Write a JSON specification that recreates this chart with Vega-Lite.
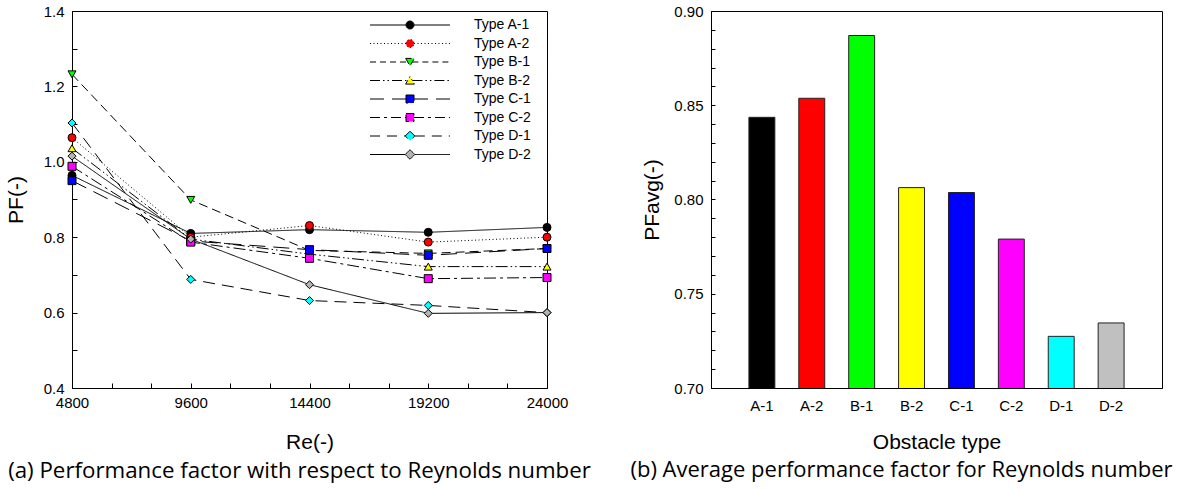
{
  "$schema": "https://vega.github.io/schema/vega-lite/v6.json",
  "background": "white",
  "padding": {"left": 4, "top": 3, "right": 10, "bottom": 4},
  "bounds": "flush",
  "spacing": 164,
  "datasets": {
    "pf": [
      {"type": "Type A-1", "re": 4800, "pf": 0.964},
      {"type": "Type A-1", "re": 9600, "pf": 0.810},
      {"type": "Type A-1", "re": 14400, "pf": 0.820},
      {"type": "Type A-1", "re": 19200, "pf": 0.813},
      {"type": "Type A-1", "re": 24000, "pf": 0.826},
      {"type": "Type A-2", "re": 4800, "pf": 1.064},
      {"type": "Type A-2", "re": 9600, "pf": 0.800},
      {"type": "Type A-2", "re": 14400, "pf": 0.831},
      {"type": "Type A-2", "re": 19200, "pf": 0.787},
      {"type": "Type A-2", "re": 24000, "pf": 0.800},
      {"type": "Type B-1", "re": 4800, "pf": 1.232},
      {"type": "Type B-1", "re": 9600, "pf": 0.899},
      {"type": "Type B-1", "re": 14400, "pf": 0.765},
      {"type": "Type B-1", "re": 19200, "pf": 0.757},
      {"type": "Type B-1", "re": 24000, "pf": 0.770},
      {"type": "Type B-2", "re": 4800, "pf": 1.036},
      {"type": "Type B-2", "re": 9600, "pf": 0.795},
      {"type": "Type B-2", "re": 14400, "pf": 0.755},
      {"type": "Type B-2", "re": 19200, "pf": 0.722},
      {"type": "Type B-2", "re": 24000, "pf": 0.722},
      {"type": "Type C-1", "re": 4800, "pf": 0.950},
      {"type": "Type C-1", "re": 9600, "pf": 0.790},
      {"type": "Type C-1", "re": 14400, "pf": 0.767},
      {"type": "Type C-1", "re": 19200, "pf": 0.752},
      {"type": "Type C-1", "re": 24000, "pf": 0.770},
      {"type": "Type C-2", "re": 4800, "pf": 0.988},
      {"type": "Type C-2", "re": 9600, "pf": 0.787},
      {"type": "Type C-2", "re": 14400, "pf": 0.744},
      {"type": "Type C-2", "re": 19200, "pf": 0.690},
      {"type": "Type C-2", "re": 24000, "pf": 0.693},
      {"type": "Type D-1", "re": 4800, "pf": 1.103},
      {"type": "Type D-1", "re": 9600, "pf": 0.688},
      {"type": "Type D-1", "re": 14400, "pf": 0.632},
      {"type": "Type D-1", "re": 19200, "pf": 0.619},
      {"type": "Type D-1", "re": 24000, "pf": 0.600},
      {"type": "Type D-2", "re": 4800, "pf": 1.015},
      {"type": "Type D-2", "re": 9600, "pf": 0.795},
      {"type": "Type D-2", "re": 14400, "pf": 0.674},
      {"type": "Type D-2", "re": 19200, "pf": 0.598},
      {"type": "Type D-2", "re": 24000, "pf": 0.600}
    ],
    "bars": [
      {"obstacle": "A-1", "pfavg": 0.8436},
      {"obstacle": "A-2", "pfavg": 0.8537},
      {"obstacle": "B-1", "pfavg": 0.8870},
      {"obstacle": "B-2", "pfavg": 0.8063},
      {"obstacle": "C-1", "pfavg": 0.8037},
      {"obstacle": "C-2", "pfavg": 0.7790},
      {"obstacle": "D-1", "pfavg": 0.7274},
      {"obstacle": "D-2", "pfavg": 0.7345}
    ]
  },
  "hconcat": [
    {
      "width": 475,
      "height": 377,
      "data": {"name": "pf"},
      "title": {
        "text": "(a) Performance factor with respect to Reynolds number",
        "orient": "bottom",
        "anchor": "middle",
        "font": "Open Sans",
        "fontSize": 22.3,
        "fontWeight": "normal",
        "color": "black",
        "offset": 8,
        "dx": -10
      },
      "encoding": {
        "x": {
          "field": "re",
          "type": "quantitative",
          "scale": {"domain": [4800, 24000], "nice": false, "zero": false},
          "axis": {
            "title": "Re(-)",
            "values": [4800, 6400, 8000, 9600, 11200, 12800, 14400, 16000, 17600, 19200, 20800, 22400, 24000],
            "format": "d",
            "labelExpr": "datum.value % 4800 == 0 ? datum.label : ''",
            "labelOverlap": false,
            "labelFlush": false,
            "tickSize": -5,
            "labelPadding": 12,
            "titlePadding": 21,
            "labelFontSize": 15,
            "titleFontSize": 21
          }
        },
        "y": {
          "field": "pf",
          "type": "quantitative",
          "scale": {"domain": [0.4, 1.4], "nice": false, "zero": false},
          "axis": {
            "title": "PF(-)",
            "values": [0.4, 0.5, 0.6, 0.7, 0.8, 0.9, 1.0, 1.1, 1.2, 1.3, 1.4],
            "labelExpr": "(round(datum.value * 10) % 2 == 0) ? format(datum.value, '.1f') : ''",
            "labelOverlap": false,
            "labelFlush": false,
            "tickSize": -5,
            "labelPadding": 13,
            "titlePadding": 17,
            "labelFontSize": 15,
            "titleFontSize": 21
          }
        }
      },
      "layer": [
        {
          "mark": {"type": "line", "color": "black", "strokeWidth": 1},
          "encoding": {
            "detail": {"field": "type", "type": "nominal"},
            "strokeDash": {
              "field": "type",
              "type": "nominal",
              "scale": {
                "domain": ["Type A-1", "Type A-2", "Type B-1", "Type B-2", "Type C-1", "Type C-2", "Type D-1", "Type D-2"],
                "range": [[1, 0], [1, 2.5], [9, 5], [12, 3, 1.5, 3, 1.5, 3], [16, 8], [12, 4, 3, 4], [12, 7], [1, 0]]
              },
              "legend": null
            }
          }
        },
        {
          "mark": {"type": "point", "filled": true, "stroke": "black", "strokeWidth": 1, "size": 64, "opacity": 1},
          "encoding": {
            "shape": {
              "field": "type",
              "type": "nominal",
              "scale": {
                "domain": ["Type A-1", "Type A-2", "Type B-1", "Type B-2", "Type C-1", "Type C-2", "Type D-1", "Type D-2"],
                "range": ["circle", "circle", "triangle-down", "triangle-up", "square", "square", "diamond", "diamond"]
              },
              "legend": null
            },
            "fill": {
              "field": "type",
              "type": "nominal",
              "scale": {
                "domain": ["Type A-1", "Type A-2", "Type B-1", "Type B-2", "Type C-1", "Type C-2", "Type D-1", "Type D-2"],
                "range": ["#000000", "#ff0000", "#00ff00", "#ffff00", "#0000ff", "#ff00ff", "#00ffff", "#b4b4b4"]
              },
              "legend": null
            }
          }
        },
        {
          "transform": [{"filter": "datum.pf < 0"}],
          "mark": {"type": "point", "filled": true, "strokeWidth": 1, "size": 64, "opacity": 1},
          "encoding": {
            "shape": {
              "field": "type",
              "type": "nominal",
              "scale": {
                "domain": ["Type A-1", "Type A-2", "Type B-1", "Type B-2", "Type C-1", "Type C-2", "Type D-1", "Type D-2"],
                "range": [
                  "M-10,0H-1M1,0H10M-1,0A1,1,0,1,1,1,0A1,1,0,1,1,-1,0Z",
                  "M-10,0H-1M1,0H10M-1,0A1,1,0,1,1,1,0A1,1,0,1,1,-1,0Z",
                  "M-10,0H-0.6M0.6,0H10M-1.1,-0.9L1.1,-0.9L0,1Z",
                  "M-10,0H-0.6M0.6,0H10M-1.1,0.9L1.1,0.9L0,-1Z",
                  "M-10,0H-1M1,0H10M-1,-1H1V1H-1Z",
                  "M-10,0H-1M1,0H10M-1,-1H1V1H-1Z",
                  "M-10,0H-1.2M1.2,0H10M0,-1.2L1.2,0L0,1.2L-1.2,0Z",
                  "M-10,0H-1.2M1.2,0H10M0,-1.2L1.2,0L0,1.2L-1.2,0Z"
                ]
              },
              "legend": {
                "title": null,
                "orient": "none",
                "legendX": 331,
                "legendY": 7,
                "symbolSize": 64,
                "symbolStrokeWidth": 1,
                "labelOffset": 57,
                "labelFont": "Liberation Sans",
                "labelFontSize": 14,
                "labelColor": "black",
                "rowPadding": 4.5
              }
            },
            "fill": {
              "field": "type",
              "type": "nominal",
              "scale": {
                "domain": ["Type A-1", "Type A-2", "Type B-1", "Type B-2", "Type C-1", "Type C-2", "Type D-1", "Type D-2"],
                "range": ["#000000", "#ff0000", "#00ff00", "#ffff00", "#0000ff", "#ff00ff", "#00ffff", "#b4b4b4"]
              },
              "legend": {
                "title": null,
                "orient": "none",
                "legendX": 331,
                "legendY": 7,
                "symbolSize": 64,
                "symbolStrokeWidth": 1,
                "labelOffset": 57,
                "labelFont": "Liberation Sans",
                "labelFontSize": 14,
                "labelColor": "black",
                "rowPadding": 4.5
              }
            },
            "stroke": {
              "field": "type",
              "type": "nominal",
              "scale": {
                "domain": ["Type A-1", "Type A-2", "Type B-1", "Type B-2", "Type C-1", "Type C-2", "Type D-1", "Type D-2"],
                "range": ["#000000", "#000000", "#000000", "#000000", "#000000", "#000000", "#000000", "#000000"]
              },
              "legend": {
                "title": null,
                "orient": "none",
                "legendX": 331,
                "legendY": 7,
                "symbolSize": 64,
                "symbolStrokeWidth": 1,
                "labelOffset": 57,
                "labelFont": "Liberation Sans",
                "labelFontSize": 14,
                "labelColor": "black",
                "rowPadding": 4.5
              }
            },
            "strokeDash": {
              "field": "type",
              "type": "nominal",
              "scale": {
                "domain": ["Type A-1", "Type A-2", "Type B-1", "Type B-2", "Type C-1", "Type C-2", "Type D-1", "Type D-2"],
                "range": [[1, 0], [1, 2.5], [6, 4], [10, 3, 1.5, 3, 1.5, 3], [14, 8], [10, 4, 3, 4], [10, 7], [1, 0]]
              },
              "legend": {
                "title": null,
                "orient": "none",
                "legendX": 331,
                "legendY": 7,
                "symbolSize": 64,
                "symbolStrokeWidth": 1,
                "labelOffset": 57,
                "labelFont": "Liberation Sans",
                "labelFontSize": 14,
                "labelColor": "black",
                "rowPadding": 4.5
              }
            }
          }
        }
      ],
      "resolve": {"scale": {"shape": "independent", "fill": "independent", "stroke": "independent", "strokeDash": "independent"}}
    },
    {
      "width": 451,
      "height": 377,
      "data": {"name": "bars"},
      "title": {
        "text": "(b) Average performance factor for Reynolds number",
        "orient": "bottom",
        "anchor": "middle",
        "font": "Open Sans",
        "fontSize": 22,
        "fontWeight": "normal",
        "color": "black",
        "offset": 8,
        "dx": -35
      },
      "mark": {"type": "bar", "stroke": "#222222", "strokeWidth": 1, "clip": true},
      "encoding": {
        "x": {
          "field": "obstacle",
          "type": "nominal",
          "sort": null,
          "scale": {"paddingInner": 0.48, "paddingOuter": 0.76},
          "axis": {
            "title": "Obstacle type",
            "labelAngle": 0,
            "ticks": false,
            "labelPadding": 10,
            "titlePadding": 18,
            "labelFontSize": 15,
            "titleFontSize": 21
          }
        },
        "y": {
          "field": "pfavg",
          "type": "quantitative",
          "scale": {"domain": [0.7, 0.9], "nice": false, "zero": false},
          "axis": {
            "title": "PFavg(-)",
            "values": [0.70, 0.71, 0.72, 0.73, 0.74, 0.75, 0.76, 0.77, 0.78, 0.79, 0.80, 0.81, 0.82, 0.83, 0.84, 0.85, 0.86, 0.87, 0.88, 0.89, 0.90],
            "labelExpr": "(round(datum.value * 100) % 5 == 0) ? format(datum.value, '.2f') : ''",
            "labelOverlap": false,
            "labelFlush": false,
            "tickSize": -4,
            "labelPadding": 12,
            "titlePadding": 11,
            "labelFontSize": 15,
            "titleFontSize": 21
          }
        },
        "fill": {
          "field": "obstacle",
          "type": "nominal",
          "sort": null,
          "scale": {
            "domain": ["A-1", "A-2", "B-1", "B-2", "C-1", "C-2", "D-1", "D-2"],
            "range": ["#000000", "#ff0000", "#00ff00", "#ffff00", "#0000ff", "#ff00ff", "#00ffff", "#c0c0c0"]
          },
          "legend": null
        }
      }
    }
  ],
  "config": {
    "view": {"stroke": "black", "strokeWidth": 1},
    "axis": {
      "grid": false,
      "labelFont": "Liberation Sans",
      "titleFont": "Liberation Sans",
      "labelColor": "black",
      "titleColor": "black",
      "titleFontWeight": "normal",
      "domainColor": "black",
      "tickColor": "black",
      "domainWidth": 1,
      "tickWidth": 1
    }
  }
}
